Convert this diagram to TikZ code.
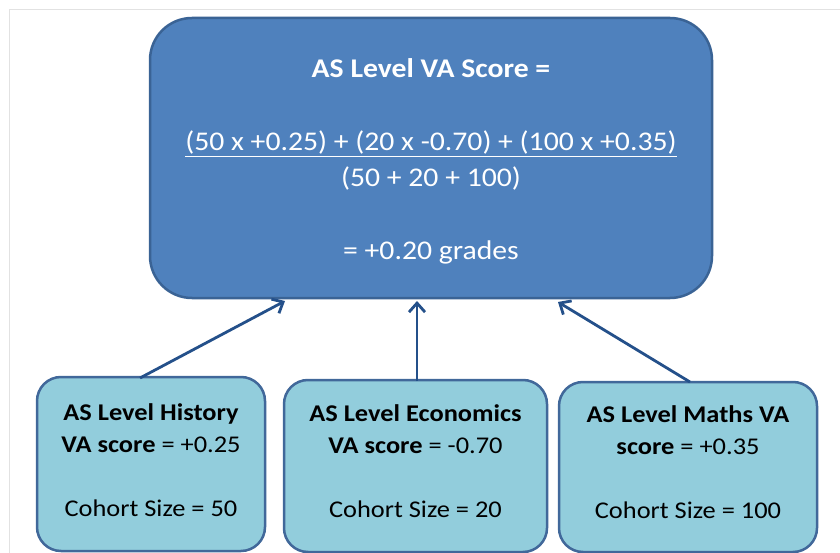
\documentclass[tikz,border=0pt]{standalone}
\usepackage{fontspec}
\setmainfont{Carlito}[FakeStretch=1.1]
\usetikzlibrary{arrows.meta}
\definecolor{topfill}{HTML}{4F81BD}
\definecolor{topdraw}{HTML}{3A6395}
\definecolor{botfill}{HTML}{92CDDC}
\definecolor{botdraw}{HTML}{41689A}
\definecolor{arrowcol}{HTML}{24508A}
\definecolor{framecol}{HTML}{E2E2E2}
\tikzset{
  topbox/.style={draw=topdraw, fill=topfill, line width=2.5pt, rounded corners=42pt,
    minimum width=562pt, minimum height=280pt, inner sep=0pt, text=white, align=center,
    font=\fontsize{27}{36}\selectfont},
  botbox/.style={draw=botdraw, fill=botfill, line width=2.5pt, rounded corners=24pt,
    inner sep=0pt, text=black, align=center, font=\fontsize{24}{32}\selectfont},
  link/.style={draw=arrowcol, line width=2.8pt, -{Straight Barb[length=9pt,width=16pt,line width=2.8pt]}},
}
\begin{document}
\begin{tikzpicture}[x=1pt,y=-1pt]
\useasboundingbox (0,0) rectangle (840,553);
\fill[white] (0,0) rectangle (840,553);
\draw[framecol, line width=1pt] (9,560) -- (9,10) -- (845,10);
\node[topbox] (top) at (431,158) {\rule{0pt}{26pt}\textbf{AS Level VA Score =}\\[37pt]
  \underline{(50 x +0.25) + (20 x -0.70) + (100 x +0.35)}\\[0pt]
  (50 + 20 + 100)\\[37pt]
  = +0.20 grades};
\node[botbox, minimum width=228pt, minimum height=174pt] (hist) at (151,464)
  {\textbf{AS Level History}\\ \textbf{VA score} = +0.25\\[32pt] Cohort Size = 50\rule[-8pt]{0pt}{0pt}};
\node[botbox, minimum width=263pt, minimum height=172pt] (econ) at (415.5,466)
  {\textbf{AS Level Economics}\\ \textbf{VA score} = -0.70\\[32pt] Cohort Size = 20\rule[-9pt]{0pt}{0pt}};
\node[botbox, minimum width=258pt, minimum height=170pt] (math) at (688,467)
  {\textbf{AS Level Maths VA}\\ \textbf{score} = +0.35\\[32pt] Cohort Size = 100\rule[-9pt]{0pt}{0pt}};
\coordinate (h1) at (140,378);
\coordinate (h2) at (285,301);
\coordinate (e1) at (417,381);
\coordinate (e2) at (417,301);
\coordinate (m1) at (690,382);
\coordinate (m2) at (558,302);
\draw[link] (h1) -- (h2);
\draw[link] (e1) -- (e2);
\draw[link] (m1) -- (m2);
\end{tikzpicture}
\end{document}
